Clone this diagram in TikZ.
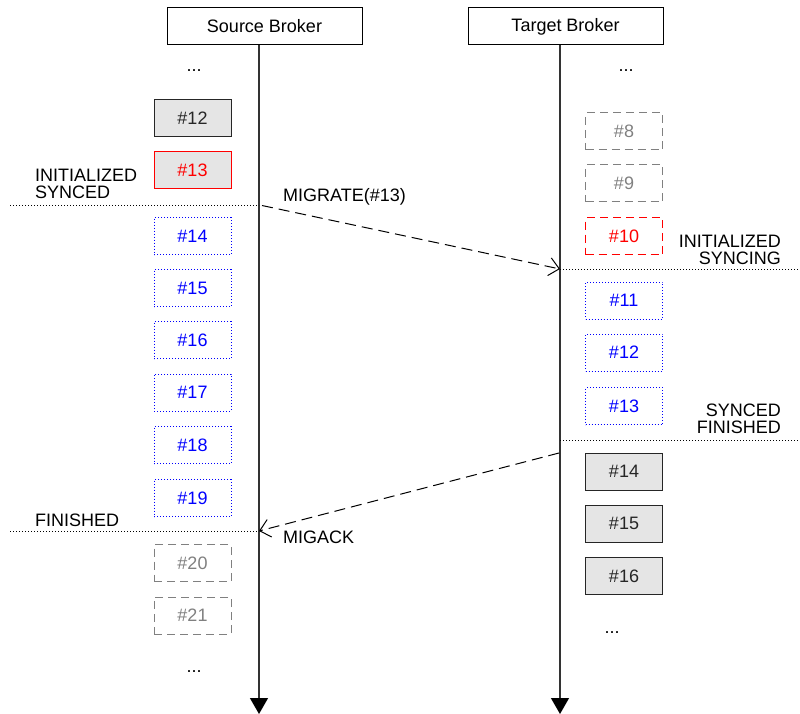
\documentclass[tikz,border=0pt]{standalone}
\usepackage{fontspec}
\setmainfont{Liberation Sans}
\usetikzlibrary{arrows.meta}
\begin{document}
\begin{tikzpicture}[x=1pt,y=-1pt,
  txt/.style={font=\fontsize{18}{17}\selectfont, inner sep=0pt},
  broker/.style={txt, draw, line width=1pt, minimum width=195pt, minimum height=37pt},
  seg/.style={txt, line width=1pt, minimum width=77pt, minimum height=37pt},
  done/.style={seg, draw=black!85, fill=gray!20, text=black!85},
  cur/.style={seg, draw=red, fill=gray!20, text=red},
  syncing/.style={seg, draw=blue, text=blue, dash pattern=on 1pt off 2pt},
  ghost/.style={seg, draw=gray, text=gray, dash pattern=on 8pt off 5pt},
  curghost/.style={seg, draw=red, text=red, dash pattern=on 8pt off 5pt},
  sep/.style={line width=0.8pt, dash pattern=on 1pt off 2pt},
  msg/.style={line width=1pt, dash pattern=on 11pt off 6pt, -{Straight Barb[length=10pt,width=18pt,line width=1pt]}},
  life/.style={line width=1.3pt, draw=black!80, -{Triangle[width=18pt,length=16pt,color=black]}}
]
\useasboundingbox (0,0) rectangle (800,714);

% brokers
\node[broker] (src) at (264.5,26.5) {Source Broker};
\node[broker] (tgt) at (565.5,26.5) {Target Broker};
\coordinate (s0) at (259,45);
\coordinate (s1) at (259,714);
\coordinate (t0) at (560,45);
\coordinate (t1) at (560,714);
\draw[life] (s0) -- (s1);
\draw[life] (t0) -- (t1);

% source segments
\node[txt, anchor=base] (sd1) at (194,72) {...};
\node[done] (s12) at (192.5,118.5) {\#12};
\node[cur] (s13) at (192.5,170.5) {\#13};
\node[syncing] (s14) at (192.5,236) {\#14};
\node[syncing] (s15) at (192.5,288) {\#15};
\node[syncing] (s16) at (192.5,340) {\#16};
\node[syncing] (s17) at (192.5,392.5) {\#17};
\node[syncing] (s18) at (192.5,445) {\#18};
\node[syncing] (s19) at (192.5,498) {\#19};
\node[ghost] (s20) at (192.5,563) {\#20};
\node[ghost] (s21) at (192.5,615.5) {\#21};
\node[txt, anchor=base] (sd2) at (194,672) {...};

% target segments
\node[txt, anchor=base] (td1) at (626,72) {...};
\node[ghost] (t8) at (624,131.5) {\#8};
\node[ghost] (t9) at (624,183.5) {\#9};
\node[curghost] (t10) at (624,236) {\#10};
\node[syncing] (t11) at (624,300.5) {\#11};
\node[syncing] (t12) at (624,352.5) {\#12};
\node[syncing] (t13) at (624,406) {\#13};
\node[done] (t14) at (624,471.5) {\#14};
\node[done] (t15) at (624,523.5) {\#15};
\node[done] (t16) at (624,576) {\#16};
\node[txt, anchor=base] (td2) at (612,633) {...};

% separators
\coordinate (a1) at (10,205);  \coordinate (a2) at (259,205);
\coordinate (b1) at (560,269); \coordinate (b2) at (800,269);
\coordinate (c1) at (560,440); \coordinate (c2) at (800,440);
\coordinate (d1) at (10,531);  \coordinate (d2) at (259,531);
\draw[sep] (a1) -- (a2);
\draw[sep] (b1) -- (b2);
\draw[sep] (c1) -- (c2);
\draw[sep] (d1) -- (d2);

% state labels
\node[txt, anchor=base west] (l1a) at (35,182) {INITIALIZED};
\node[txt, anchor=base west] (l1b) at (35,199) {SYNCED};
\node[txt, anchor=base west] (l2) at (35,526) {FINISHED};
\node[txt, anchor=base east] (l3a) at (781,247) {INITIALIZED};
\node[txt, anchor=base east] (l3b) at (781,264) {SYNCING};
\node[txt, anchor=base east] (l4a) at (781,416.5) {SYNCED};
\node[txt, anchor=base east] (l4b) at (781,433) {FINISHED};

% messages
\coordinate (m1s) at (262,205.5);
\coordinate (m1e) at (560,269);
\coordinate (m2s) at (559,453);
\coordinate (m2e) at (259,531);
\draw[msg] (m1s) -- (m1e);
\draw[msg] (m2s) -- (m2e);
\node[txt, anchor=base west] (mg) at (283,202) {MIGRATE(\#13)};
\node[txt, anchor=base west] (ma) at (283,543) {MIGACK};
\end{tikzpicture}
\end{document}
